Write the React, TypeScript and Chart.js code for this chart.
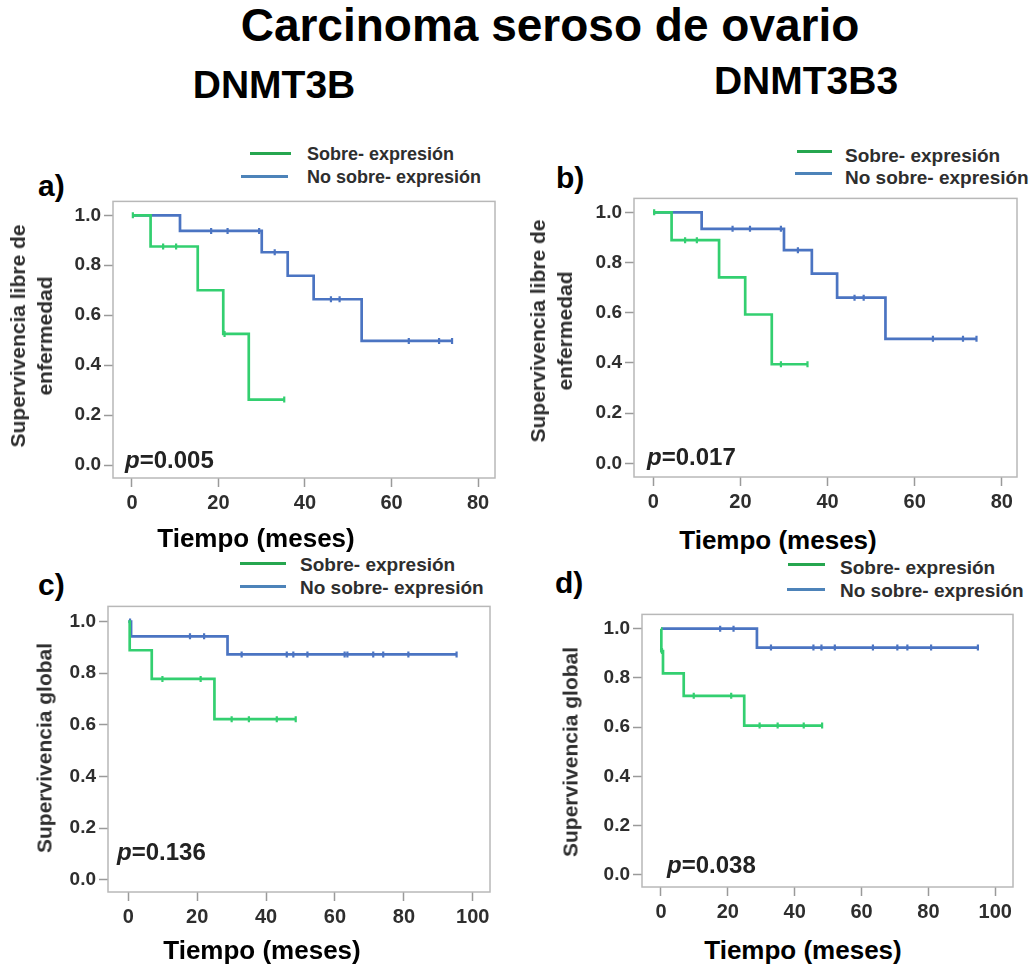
import React, { useEffect, useRef } from 'react';
import { Chart, registerables } from 'chart.js';
Chart.register(...registerables);

// ---------- data (Kaplan–Meier steps: times and survival values; censor times) ----------
const A_SOBRE_T = [0, 4.3, 15.2, 21.1, 27.0, 35.2];
const A_SOBRE_S = [1, 0.875, 0.7, 0.525, 0.2625, 0.2625];
const A_SOBRE_CENS = [0.2, 7.2, 10.2, 21.4, 35.2];
const A_NO_T = [0, 11.1, 30.0, 36.0, 42.0, 53.1, 74.0];
const A_NO_S = [1, 0.9375, 0.852, 0.758, 0.664, 0.497, 0.497];
const A_NO_CENS = [18.3, 22.1, 29.4, 33.0, 46.0, 48.0, 64.0, 71.0, 74.0];

const B_SOBRE_T = [0, 4.2, 15.1, 21.1, 27.2, 35.4];
const B_SOBRE_S = [1, 0.889, 0.741, 0.593, 0.395, 0.395];
const B_SOBRE_CENS = [0.2, 7.3, 10.0, 29.3, 35.4];
const B_NO_T = [0, 11.1, 30.0, 36.4, 42.2, 53.3, 74.2];
const B_NO_S = [1, 0.934, 0.849, 0.756, 0.66, 0.496, 0.496];
const B_NO_CENS = [18.2, 22.2, 29.3, 33.2, 46.2, 48.3, 64.2, 71.1, 74.2];

const C_SOBRE_T = [0, 0.4, 6.8, 25.0, 48.6];
const C_SOBRE_S = [1, 0.889, 0.778, 0.622, 0.622];
const C_SOBRE_CENS = [9.9, 21.0, 30.0, 35.0, 43.1, 48.6];
const C_NO_T = [0, 0.8, 28.8, 95.3];
const C_NO_S = [1, 0.943, 0.873, 0.873];
const C_NO_CENS = [0.5, 17.9, 22.0, 32.9, 46.0, 47.9, 52.0, 62.8, 63.6, 71.1, 74.0, 81.3, 95.3];

const D_SOBRE_T = [0, 0.1, 0.6, 6.8, 24.9, 48.2];
const D_SOBRE_S = [1, 0.909, 0.818, 0.727, 0.606, 0.606];
const D_SOBRE_CENS = [0.3, 9.8, 21.0, 29.5, 34.9, 42.7, 48.2];
const D_NO_T = [0, 28.7, 94.8];
const D_NO_S = [1, 0.923, 0.923];
const D_NO_CENS = [17.7, 21.7, 32.9, 45.6, 48.0, 52.0, 63.4, 70.7, 73.7, 80.8, 94.8];

const X_TICKS_80 = [0, 20, 40, 60, 80];
const X_TICKS_100 = [0, 20, 40, 60, 80, 100];
const Y_TICKS = [0, 0.2, 0.4, 0.6, 0.8, 1.0];

const LEGEND_LABELS = ['Sobre- expresión', 'No sobre- expresión'];
const P_VALUES = ['0.005', '0.017', '0.136', '0.038'];

// ---------- styles ----------
const GREEN = '#33cf70';
const BLUE = '#4b74c2';
const GREEN_LEG = '#26a64f';
const BLUE_LEG = '#4d83b9';
const FONT = 'Arial, "Liberation Sans", Helvetica, sans-serif';
const TXT = '#2e2e2e';

const stepAt = (T: number[], S: number[], t: number) => {
  let v = S[0];
  for (let i = 0; i < T.length; i++) if (T[i] <= t) v = S[i];
  return v;
};

type PanelCfg = {
  box: { l: number; t: number; r: number; b: number };
  xr: [number, number];
  yr: [number, number];
  xt: number[];
  sT: number[]; sS: number[]; sC: number[];
  nT: number[]; nS: number[]; nC: number[];
};

const PANELS: PanelCfg[] = [
  { box: { l: 113, t: 199, r: 495, b: 478 }, xr: [-4.39, 83.93], yr: [-0.0516, 1.0556], xt: X_TICKS_80,
    sT: A_SOBRE_T, sS: A_SOBRE_S, sC: A_SOBRE_CENS, nT: A_NO_T, nS: A_NO_S, nC: A_NO_CENS },
  { box: { l: 634, t: 196, r: 1017, b: 477 }, xr: [-4.43, 83.5], yr: [-0.054, 1.0553], xt: X_TICKS_80,
    sT: B_SOBRE_T, sS: B_SOBRE_S, sC: B_SOBRE_CENS, nT: B_NO_T, nS: B_NO_S, nC: B_NO_CENS },
  { box: { l: 108, t: 604, r: 490, b: 892 }, xr: [-5.9, 105.0], yr: [-0.048, 1.059], xt: X_TICKS_100,
    sT: C_SOBRE_T, sS: C_SOBRE_S, sC: C_SOBRE_CENS, nT: C_NO_T, nS: C_NO_S, nC: C_NO_CENS },
  { box: { l: 642, t: 612, r: 1013, b: 887 }, xr: [-5.68, 105.3], yr: [-0.05, 1.058], xt: X_TICKS_100,
    sT: D_SOBRE_T, sS: D_SOBRE_S, sC: D_SOBRE_CENS, nT: D_NO_T, nS: D_NO_S, nC: D_NO_CENS },
];

const PAD_L = 66, PAD_T = 12, PAD_R = 20, PAD_B = 46;

const boxPlugin = {
  id: 'kmBox',
  beforeDatasetsDraw(chart: any) {
    const { ctx, chartArea: a } = chart;
    ctx.save();
    ctx.strokeStyle = '#b8b8b8';
    ctx.lineWidth = 1.5;
    ctx.strokeRect(a.left, a.top, a.right - a.left, a.bottom - a.top);
    ctx.restore();
  },
};

function Panel({ cfg }: { cfg: PanelCfg }) {
  const ref = useRef<HTMLCanvasElement>(null);
  const w = cfg.box.r - cfg.box.l + PAD_L + PAD_R;
  const h = cfg.box.b - cfg.box.t + PAD_T + PAD_B;
  useEffect(() => {
    if (!ref.current) return;
    const curve = (T: number[], S: number[]) => T.map((t, i) => ({ x: t, y: S[i] }));
    const cens = (T: number[], S: number[], C: number[]) => C.map((t) => ({ x: t, y: stepAt(T, S, t) }));
    const lineDs = (data: any, color: string) => ({
      data, stepped: true, borderColor: color, borderWidth: 2.7, pointRadius: 0, fill: false,
    });
    const censDs = (data: any, color: string) => ({
      data, showLine: false, pointStyle: 'line', pointRotation: 90, pointRadius: 3,
      pointBorderColor: color, pointBorderWidth: 2.2, pointBackgroundColor: color, borderColor: color,
    });
    const chart = new Chart(ref.current, {
      type: 'line',
      data: {
        datasets: [
          censDs(cens(cfg.sT, cfg.sS, cfg.sC), GREEN),
          lineDs(curve(cfg.sT, cfg.sS), GREEN),
          censDs(cens(cfg.nT, cfg.nS, cfg.nC), BLUE),
          lineDs(curve(cfg.nT, cfg.nS), BLUE),
        ] as any,
      },
      options: {
        responsive: false,
        animation: false,
        layout: { padding: { left: 0, top: PAD_T, right: PAD_R, bottom: 0 } },
        plugins: { legend: { display: false }, tooltip: { enabled: false }, title: { display: false } },
        scales: {
          x: {
            type: 'linear', min: cfg.xr[0], max: cfg.xr[1],
            afterBuildTicks: (s: any) => { s.ticks = cfg.xt.map((v) => ({ value: v })); },
            afterFit: (s: any) => { s.height = PAD_B; },
            grid: { drawOnChartArea: false, drawTicks: true, tickLength: 9, color: '#9a9a9a', tickWidth: 1.5 },
            border: { display: false },
            ticks: { font: { family: FONT, size: 20, weight: 'bold' }, color: TXT, padding: 4, maxRotation: 0, autoSkip: false },
          },
          y: {
            type: 'linear', min: cfg.yr[0], max: cfg.yr[1],
            afterBuildTicks: (s: any) => { s.ticks = Y_TICKS.map((v) => ({ value: v })); },
            afterFit: (s: any) => { s.width = PAD_L; },
            grid: { drawOnChartArea: false, drawTicks: true, tickLength: 9, color: '#9a9a9a', tickWidth: 1.5 },
            border: { display: false },
            ticks: {
              font: { family: FONT, size: 19, weight: 'bold' }, color: TXT, padding: 3, autoSkip: false,
              callback: (v: any) => Number(v).toFixed(1),
            },
          },
        },
      } as any,
      plugins: [boxPlugin],
    });
    return () => chart.destroy();
  }, [cfg]);
  return (
    <canvas
      ref={ref}
      width={w}
      height={h}
      style={{ position: 'absolute', left: cfg.box.l - PAD_L, top: cfg.box.t - PAD_T, width: w, height: h }}
    />
  );
}

// text positioned by the vertical centre of its glyphs
function T({ x, y, size, children, color = '#000', bold = true, anchor = 'left' }: any) {
  const tx = anchor === 'center' ? 'translateX(-50%)' : 'none';
  return (
    <div
      style={{
        position: 'absolute', left: x, top: y - size / 2, fontSize: size, lineHeight: 1,
        fontFamily: FONT, fontWeight: bold ? 'bold' : 'normal', color, whiteSpace: 'nowrap', transform: tx,
      }}
    >
      {children}
    </div>
  );
}

function VText({ x, y, size, lines, gap }: any) {
  return (
    <div
      style={{
        position: 'absolute', left: x, top: y, transform: 'translate(-50%, -50%) rotate(-90deg)',
        fontFamily: FONT, fontWeight: 'bold', fontSize: size, lineHeight: `${gap}px`, color: TXT,
        whiteSpace: 'nowrap', textAlign: 'center',
      }}
    >
      {lines.map((l: string, i: number) => (<div key={i}>{l}</div>))}
    </div>
  );
}

function Legend({ gx1, gx2, bx1, bx2, gy, by, tx, ty1, ty2, size }: any) {
  return (
    <>
      <div style={{ position: 'absolute', left: gx1, top: gy - 1.5, width: gx2 - gx1, height: 3.5, background: GREEN_LEG }} />
      <div style={{ position: 'absolute', left: bx1, top: by - 1.5, width: bx2 - bx1, height: 3.5, background: BLUE_LEG }} />
      <T x={tx} y={ty1} size={size} color={TXT}>{LEGEND_LABELS[0]}</T>
      <T x={tx} y={ty2} size={size} color={TXT}>{LEGEND_LABELS[1]}</T>
    </>
  );
}

function PVal({ x, y, v }: any) {
  return (
    <T x={x} y={y} size={24} color="#222"><i>p</i>={v}</T>
  );
}

export default function App() {
  return (
    <div style={{ position: 'absolute', left: 0, top: 0, width: 1034, height: 970, background: '#fff', overflow: 'hidden' }}>
      <T x={550} y={25} size={46} anchor="center">Carcinoma seroso de ovario</T>
      <T x={274} y={84} size={39} anchor="center">DNMT3B</T>
      <T x={806} y={80} size={39} anchor="center">DNMT3B3</T>

      <T x={38} y={186} size={30}>a)</T>
      <T x={556} y={178} size={30}>b)</T>
      <T x={38} y={585} size={30}>c)</T>
      <T x={555} y={583} size={30}>d)</T>

      <Legend gx1={250} gx2={291} bx1={241} bx2={288} gy={153} by={176} tx={307} ty1={154} ty2={177} size={18} />
      <Legend gx1={797} gx2={832} bx1={795} bx2={832} gy={151} by={173} tx={845} ty1={155} ty2={177} size={19} />
      <Legend gx1={240} gx2={286} bx1={240} bx2={286} gy={563} by={586} tx={300} ty1={564} ty2={587} size={19} />
      <Legend gx1={788} gx2={825} bx1={787} bx2={825} gy={564} by={589} tx={840} ty1={567} ty2={590} size={19} />

      {PANELS.map((p, i) => (<Panel key={i} cfg={p} />))}

      <VText x={31} y={336} size={21} gap={27} lines={['Supervivencia libre de', 'enfermedad']} />
      <VText x={551} y={331} size={21} gap={27} lines={['Supervivencia libre de', 'enfermedad']} />
      <VText x={44} y={748} size={21} gap={27} lines={['Supervivencia global']} />
      <VText x={570} y={752} size={21} gap={27} lines={['Supervivencia global']} />

      <PVal x={125} y={460} v={P_VALUES[0]} />
      <PVal x={647} y={457} v={P_VALUES[1]} />
      <PVal x={117} y={852} v={P_VALUES[2]} />
      <PVal x={667} y={865} v={P_VALUES[3]} />

      <T x={256} y={538} size={26} anchor="center">Tiempo (meses)</T>
      <T x={778} y={540} size={26} anchor="center">Tiempo (meses)</T>
      <T x={262} y={950} size={26} anchor="center">Tiempo (meses)</T>
      <T x={803} y={950} size={26} anchor="center">Tiempo (meses)</T>
    </div>
  );
}
